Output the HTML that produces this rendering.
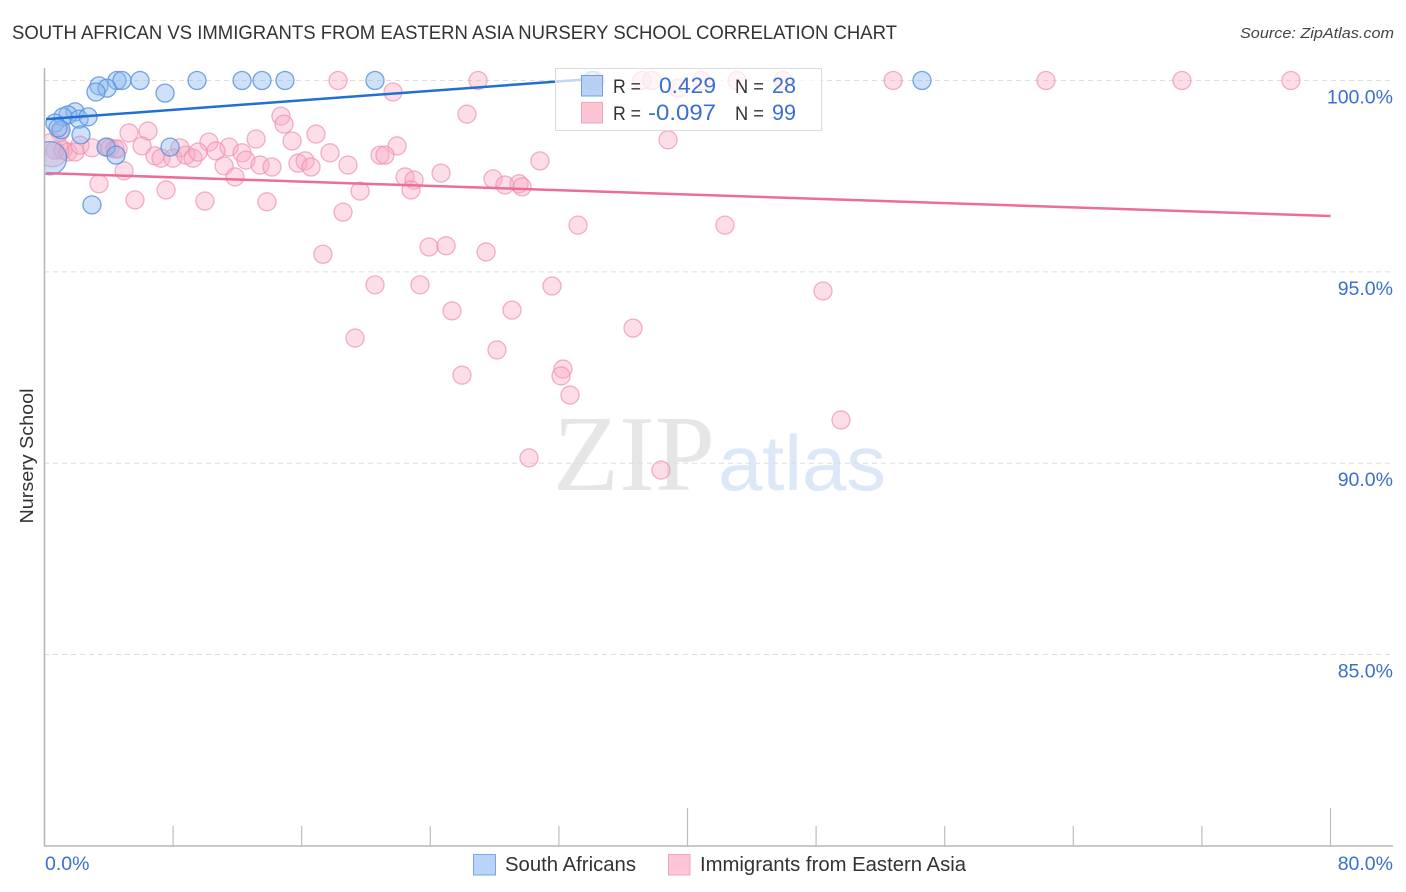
<!DOCTYPE html>
<html lang="en">
<head>
<meta charset="utf-8">
<title>South African vs Immigrants from Eastern Asia Nursery School Correlation Chart</title>
<style>
html,body{margin:0;padding:0;background:#fff;width:1406px;height:892px;overflow:hidden}
svg{display:block}
text{font-family:"Liberation Sans",sans-serif}
</style>
</head>
<body>
<svg id="chart" xmlns="http://www.w3.org/2000/svg" width="1406" height="892" viewBox="0 0 1406 892">
  <defs><clipPath id="plot-clip"><rect x="45" y="50" width="1361" height="796"/></clipPath></defs>
  <text x="12" y="39" font-size="19" fill="#333" textLength="885" lengthAdjust="spacingAndGlyphs">SOUTH AFRICAN VS IMMIGRANTS FROM EASTERN ASIA NURSERY SCHOOL CORRELATION CHART</text>
  <text x="1394" y="38" font-size="15" font-style="italic" fill="#444" text-anchor="end" textLength="154" lengthAdjust="spacingAndGlyphs">Source: ZipAtlas.com</text>
  <g>
    <text x="553" y="490" font-size="108" style="font-family:'Liberation Serif',serif" fill="#e6e6e6" textLength="162" lengthAdjust="spacingAndGlyphs">ZIP</text>
    <text x="718" y="490" font-size="78" fill="#dce8f8" textLength="168" lengthAdjust="spacingAndGlyphs">atlas</text>
  </g>
  <g id="grid"></g>
  <g id="axes"></g>
  <g id="points" clip-path="url(#plot-clip)"></g>
  <g id="trends"></g>
  <g>
    <rect x="555.5" y="68.5" width="266" height="62" fill="#fff" fill-opacity="0.72" stroke="#dcdcdc" stroke-width="1"/>
    <rect x="581.5" y="75.5" width="21" height="20.5" fill="#a9c8f2" fill-opacity="0.8" stroke="#6f9fe0"/>
    <rect x="581.5" y="102.5" width="21" height="20.5" fill="#fcc3d5" stroke="#f2a2bd"/>
    <text x="613" y="93" font-size="19.5" fill="#333" textLength="28" lengthAdjust="spacingAndGlyphs">R =</text>
    <text x="716" y="93" font-size="22" fill="#3a6fd0" text-anchor="end" textLength="57" lengthAdjust="spacingAndGlyphs">0.429</text>
    <text x="735" y="93" font-size="19.5" fill="#333" textLength="29" lengthAdjust="spacingAndGlyphs">N =</text>
    <text x="796" y="93" font-size="22" fill="#3a6fd0" text-anchor="end" textLength="24" lengthAdjust="spacingAndGlyphs">28</text>
    <text x="613" y="120" font-size="19.5" fill="#333" textLength="28" lengthAdjust="spacingAndGlyphs">R =</text>
    <text x="716" y="120" font-size="22" fill="#3a6fd0" text-anchor="end" textLength="68" lengthAdjust="spacingAndGlyphs">-0.097</text>
    <text x="735" y="120" font-size="19.5" fill="#333" textLength="29" lengthAdjust="spacingAndGlyphs">N =</text>
    <text x="796" y="120" font-size="22" fill="#3a6fd0" text-anchor="end" textLength="24" lengthAdjust="spacingAndGlyphs">99</text>
  </g>
  <text transform="translate(33,456) rotate(-90)" font-size="18.5" fill="#333" text-anchor="middle" textLength="135" lengthAdjust="spacingAndGlyphs">Nursery School</text>
  <g>
    <rect x="473.5" y="854.5" width="22" height="20.5" fill="#b8d4f8" stroke="#7aa6e4"/>
    <text x="505" y="871" font-size="20" fill="#333" textLength="131" lengthAdjust="spacingAndGlyphs">South Africans</text>
    <rect x="668.5" y="854.5" width="21.5" height="20.5" fill="#fdc5d6" stroke="#f0a6c0"/>
    <text x="700" y="871" font-size="20" fill="#333" textLength="266" lengthAdjust="spacingAndGlyphs">Immigrants from Eastern Asia</text>
  </g>
</svg>
<script>
const yTicks = [100, 95, 90, 85];
const yTickLabels = ["100.0%", "95.0%", "90.0%", "85.0%"];
const xTicks = [8, 16, 24, 32, 40, 48, 56, 64, 72, 80];
const xMajorTicks = [40, 80];
const xEndLabels = ["0.0%", "80.0%"];

const blueX = [4.51,4.82,5.94,9.49,12.29,13.53,14.96,20.56,54.59,34.06,3.39,3.89,3.20,7.50,1.90,1.46,1.15,2.15,2.71,0.65,1.03,2.27,0.84,3.83,7.81,4.45,2.95,0.34];
const blueY = [100,100,100,100,100,100,100,100,100,100,99.86,99.80,99.70,99.67,99.18,99.10,99.05,98.99,99.05,98.89,98.71,98.58,98.76,98.26,98.26,98.05,96.75,97.97];
const pinkX = [18.26,26.97,34.25,37.17,37.79,40.84,43.08,45.94,52.79,62.30,70.76,77.54,39.41,
21.68,26.28,14.71,14.90,38.79,16.89,6.44,5.26,13.16,21.93,
15.40,10.23,11.48,6.07,8.43,12.29,17.76,20.87,21.18,30.82,
6.87,7.25,7.99,8.80,9.24,9.55,10.67,12.53,11.17,13.41,
14.15,15.77,16.21,16.58,18.88,11.85,4.95,3.39,7.56,5.63,
9.98,13.84,19.63,22.43,22.99,22.80,24.67,27.90,28.64,29.52,
29.71,18.57,33.19,42.33,17.32,23.92,24.98,27.47,20.56,23.36,
31.57,48.43,25.35,29.08,36.61,19.32,28.15,32.25,32.13,25.97,
32.69,49.55,30.14,38.35,
0.65,1.15,1.46,1.90,2.21,2.95,3.89,4.07,4.39,4.57,0.96,0.47];
const pinkY = [100,100,100,100,100,100,100,100,100,100,100,100,99.80,
99.70,99.12,99.07,98.86,98.45,98.60,98.68,98.63,98.47,98.29,
98.42,98.39,98.26,98.29,98.24,98.11,98.11,98.05,98.05,97.90,
98.03,97.97,97.97,98.05,97.97,98.13,98.16,97.92,97.77,97.79,
97.74,97.84,97.90,97.74,97.79,97.48,97.64,97.30,97.14,96.88,
96.85,96.83,97.11,97.48,97.40,97.14,97.58,97.43,97.27,97.30,
97.22,96.56,96.22,96.22,95.46,95.65,95.68,95.52,94.66,94.66,
94.63,94.50,93.98,94.00,93.53,93.27,92.96,92.46,92.28,92.30,
91.78,91.13,90.14,89.82,
98.18,98.18,98.13,98.13,98.31,98.24,98.26,98.24,98.21,98.21,98.65,98.18];
const blueWeightedIndex = 27;
const pinkWeightedIndex = 98;
const pointWeight = 3.4;
const blueTrendX = [0.1, 33.4];
const blueTrendY = [98.99, 100.02];
const pinkTrendX = [0.1, 80];
const pinkTrendY = [97.58, 96.46];

const NS = "http://www.w3.org/2000/svg";
function sx(v) { return 44.5 + v * 16.075; }
function sy(v) { return 80.5 + (100 - v) * 38.27; }
function mk(parent, tag, attrs) {
  const el = document.createElementNS(NS, tag);
  for (const k in attrs) el.setAttribute(k, attrs[k]);
  parent.appendChild(el);
  return el;
}
const grid = document.getElementById("grid");
const axes = document.getElementById("axes");
const pts = document.getElementById("points");
const trends = document.getElementById("trends");

yTicks.forEach(function (t, i) {
  const line = mk(grid, "line", {x1: 44, x2: 1393, y1: sy(t), y2: sy(t), stroke: "#dedede", "stroke-width": 1, "stroke-dasharray": "5 4"});
  
  
  const label = mk(axes, "text", {x: 1393, y: sy(t) + 23, "font-size": 19.5, fill: "#3a6fd0", "text-anchor": "end"});
  label.textContent = yTickLabels[i];
  
  
});

const yAxis = mk(axes, "line", {x1: 44.5, x2: 44.5, y1: 68, y2: 846.5, stroke: "#b5b5b5", "stroke-width": 1.5});


const xAxis = mk(axes, "line", {x1: 44, x2: 1393, y1: 846, y2: 846, stroke: "#b5b5b5", "stroke-width": 1.5});



xTicks.forEach(function (t) {
  const top = xMajorTicks.indexOf(t) >= 0 ? 808 : 826;
  const tick = mk(axes, "line", {x1: sx(t), x2: sx(t), y1: top, y2: 846, stroke: "#bdbdbd", "stroke-width": 1.2});
  
  
});

const xLabelLeft = mk(axes, "text", {x: 45, y: 870, "font-size": 19.5, fill: "#3a6fd0"});
xLabelLeft.textContent = xEndLabels[0];


const xLabelRight = mk(axes, "text", {x: 1393, y: 870, "font-size": 19.5, fill: "#3a6fd0", "text-anchor": "end"});
xLabelRight.textContent = xEndLabels[1];



pinkX.forEach(function (x, i) {
  const w = i === pinkWeightedIndex ? pointWeight : 1;
  const c = mk(pts, "circle", {cx: sx(x), cy: sy(pinkY[i]), r: 9 * Math.sqrt(w), fill: "#f9a8c2", "fill-opacity": 0.38, stroke: "#ee8fae", "stroke-opacity": 0.7, "stroke-width": 1.3});
  
  
});
blueX.forEach(function (x, i) {
  const w = i === blueWeightedIndex ? pointWeight : 1;
  const c = mk(pts, "circle", {cx: sx(x), cy: sy(blueY[i]), r: 9 * Math.sqrt(w), fill: "#8db8ee", "fill-opacity": 0.42, stroke: "#5b94de", "stroke-opacity": 0.85, "stroke-width": 1.3});
  
  
});

const blueLine = mk(trends, "line", {x1: sx(blueTrendX[0]), y1: sy(blueTrendY[0]), x2: sx(blueTrendX[1]), y2: sy(blueTrendY[1]), stroke: "#1f6fd6", "stroke-width": 2.5});


const pinkLine = mk(trends, "line", {x1: sx(pinkTrendX[0]), y1: sy(pinkTrendY[0]), x2: sx(pinkTrendX[1]), y2: sy(pinkTrendY[1]), stroke: "#ec6c9a", "stroke-width": 2.5});


</script>
</body>
</html>
